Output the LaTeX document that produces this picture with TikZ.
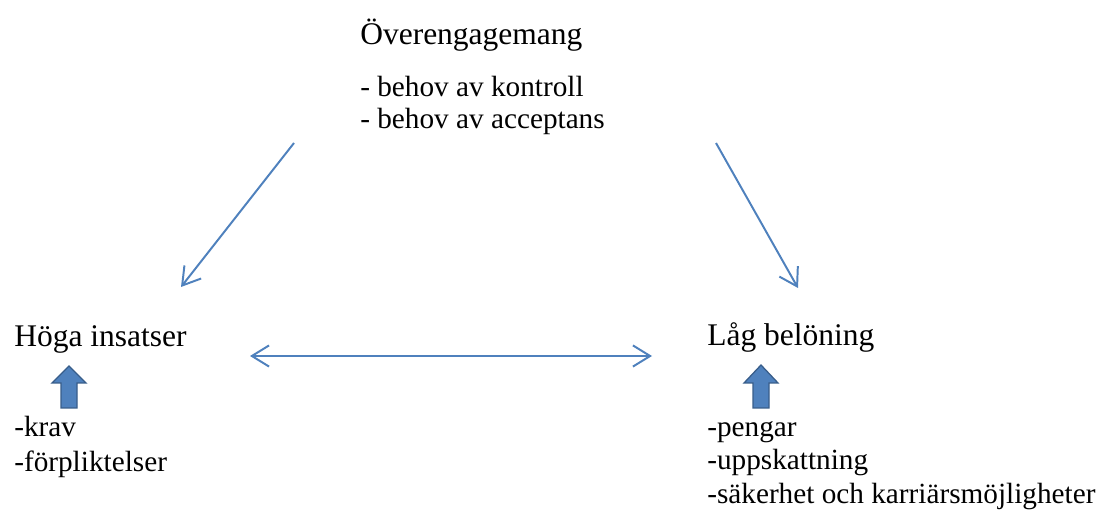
\documentclass[tikz,border=0pt]{standalone}
\usepackage{fontspec}
\setmainfont{Liberation Serif}
\usepackage{tikz}
\usetikzlibrary{arrows.meta}
\definecolor{pilblue}{HTML}{4F81BD}
\definecolor{pildark}{HTML}{385D8A}
\newcommand{\rubrik}[1]{{\fontsize{22.4}{27}\selectfont #1}}
\newcommand{\punkt}[1]{{\fontsize{20.8}{25}\selectfont #1}}

\begin{document}
\begin{tikzpicture}[x=0.025cm,y=-0.025cm,
    txt/.style={anchor=base west,inner sep=0pt},
    pil/.style={draw=pilblue,line width=1.4pt,-{Straight Barb[length=0.43cm,width=0.53cm]}},
    dubbelpil/.style={pil,{Straight Barb[length=0.43cm,width=0.53cm]}-{Straight Barb[length=0.43cm,width=0.53cm]}},
    blockpil/.style={fill=pilblue,draw=pildark,line width=0.9pt}]
    \useasboundingbox (0,0) rectangle (1105,510);
    \node[txt] (over) at (360,45) {\rubrik{Överengagemang}};
    \node[txt] (over1) at (360,97) {\punkt{- behov av kontroll}};
    \node[txt] (over2) at (360,129) {\punkt{- behov av acceptans}};

    \node[txt] (hog) at (14,347) {\rubrik{Höga insatser}};
    \node[txt] (hog1) at (14,437) {\punkt{-krav}};
    \node[txt] (hog2) at (14,471) {\punkt{-förpliktelser}};

    \node[txt] (lag) at (707,346) {\rubrik{Låg belöning}};
    \node[txt] (lag1) at (707,437) {\punkt{-pengar}};
    \node[txt] (lag2) at (707,470) {\punkt{-uppskattning}};
    \node[txt] (lag3) at (707,503) {\punkt{-säkerhet och karriärsmöjligheter}};

    \coordinate (vstart) at (294,143);
    \coordinate (vslut) at (181,287);
    \coordinate (hstart) at (716,143);
    \coordinate (hslut) at (798,288);
    \coordinate (mitt1) at (250,356);
    \coordinate (mitt2) at (652,356);
    \draw[pil] (vstart) -- (vslut);
    \draw[pil] (hstart) -- (hslut);
    \draw[dubbelpil] (mitt1) -- (mitt2);

    \coordinate (hogpil) at (69,408);
    \coordinate (lagpil) at (761,408);
    \draw[blockpil] (hogpil) ++(-8,0) -- ++(0,-25) -- ++(-9,0) -- ++(17,-17) -- ++(17,17) -- ++(-9,0) -- ++(0,25) -- cycle;
    \draw[blockpil] (lagpil) ++(-8,0) -- ++(0,-25) -- ++(-9,0) -- ++(17,-18) -- ++(17,18) -- ++(-9,0) -- ++(0,25) -- cycle;
\end{tikzpicture}
\end{document}
